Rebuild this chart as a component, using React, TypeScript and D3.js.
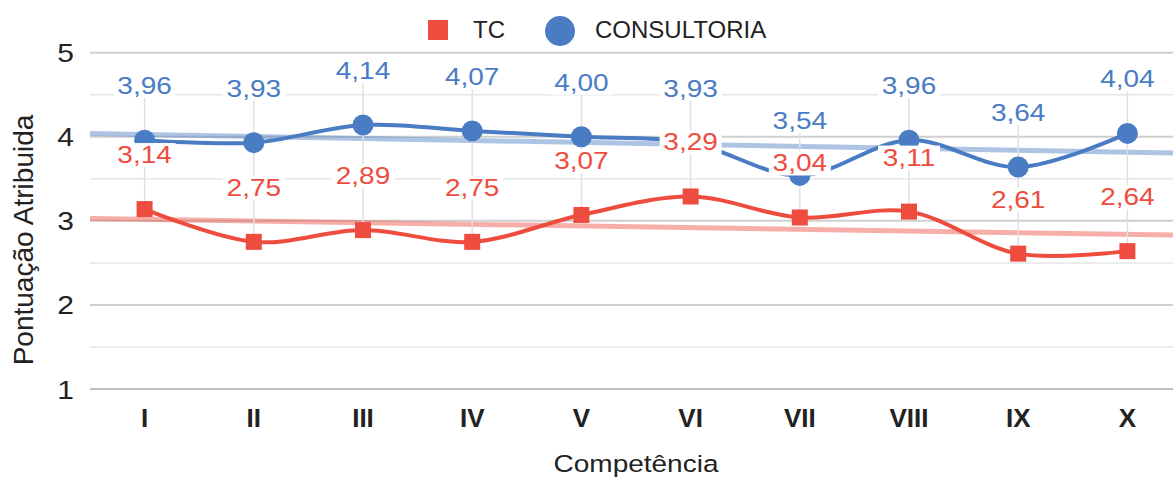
import React, { useEffect, useRef } from 'react';
import * as d3 from 'd3';

const categories = ['I', 'II', 'III', 'IV', 'V', 'VI', 'VII', 'VIII', 'IX', 'X'];
const tcValues = [3.14, 2.75, 2.89, 2.75, 3.07, 3.29, 3.04, 3.11, 2.61, 2.64];
const consultoriaValues = [3.96, 3.93, 4.14, 4.07, 4.0, 3.93, 3.54, 3.96, 3.64, 4.04];
const yTicks = [1, 2, 3, 4, 5];
const yMinorTicks = [1.5, 2.5, 3.5, 4.5];

const RED = '#ee4c3e';
const BLUE = '#4a7cc4';
const FONT = 'Arial, "Liberation Sans", sans-serif';

const fmt = (v: number) => v.toFixed(2).replace('.', ',');

// least squares fit over category index
const linearFit = (vals: number[]) => {
    const n = vals.length;
    const mx = (n - 1) / 2;
    const my = d3.mean(vals) as number;
    let num = 0, den = 0;
    vals.forEach((v, i) => { num += (i - mx) * (v - my); den += (i - mx) * (i - mx); });
    const slope = num / den;
    return (i: number) => my + slope * (i - mx);
};

const App = () => {
    const ref = useRef<SVGSVGElement>(null);

    useEffect(() => {
        const width = 1173;
        const svg = d3.select(ref.current);
        svg.selectAll('*').remove();

        const x = d3.scalePoint<string>().domain(categories).range([90, 1182]).padding(0.5);
        const step = x.step();
        const xi = (i: number) => (x(categories[0]) as number) + i * step;
        const y = d3.scaleLinear().domain([1, 5]).range([389, 52.7]);

        // gridlines
        svg.append('g')
            .selectAll('line')
            .data(yMinorTicks)
            .join('line')
            .attr('x1', 90).attr('x2', width)
            .attr('y1', d => y(d)).attr('y2', d => y(d))
            .attr('stroke', '#e6e6e6').attr('stroke-width', 1.5);
        svg.append('g')
            .selectAll('line')
            .data(yTicks)
            .join('line')
            .attr('x1', 90).attr('x2', width)
            .attr('y1', d => y(d)).attr('y2', d => y(d))
            .attr('stroke', d => (d === 1 ? '#bdbdbd' : '#cfcfcf')).attr('stroke-width', 2);

        // y tick labels
        svg.append('g')
            .selectAll('text')
            .data(yTicks)
            .join('text')
            .attr('transform', d => `translate(74,${y(d) + 9.5}) scale(1,0.87)`)
            .attr('text-anchor', 'end')
            .style('font', `30px ${FONT}`)
            .attr('fill', '#222')
            .text(d => d);

        // x tick labels
        svg.append('g')
            .selectAll('text')
            .data(categories)
            .join('text')
            .attr('x', d => x(d) as number)
            .attr('y', 427)
            .attr('text-anchor', 'middle')
            .style('font', `bold 26px ${FONT}`)
            .attr('fill', '#222')
            .text(d => d);

        // axis titles
        svg.append('text')
            .attr('transform', 'translate(636,472) scale(1,0.87)')
            .attr('text-anchor', 'middle')
            .style('font', `28px ${FONT}`)
            .attr('fill', '#222')
            .text('Competência');
        svg.append('text')
            .attr('transform', 'translate(33,240) rotate(-90)')
            .attr('text-anchor', 'middle')
            .style('font', `28px ${FONT}`)
            .attr('fill', '#222')
            .text('Pontuação Atribuida');

        const series = [
            { name: 'TC', values: tcValues, color: RED },
            { name: 'CONSULTORIA', values: consultoriaValues, color: BLUE }
        ];

        // trend lines
        series.forEach(s => {
            const fit = linearFit(s.values);
            svg.append('line')
                .attr('x1', xi(-0.5)).attr('x2', xi(categories.length - 0.5))
                .attr('y1', y(fit(-0.5))).attr('y2', y(fit(categories.length - 0.5)))
                .attr('stroke', s.color).attr('stroke-opacity', 0.45).attr('stroke-width', 5);
        });

        // leader lines from top label down to lowest point
        svg.append('g')
            .selectAll('line')
            .data(categories)
            .join('line')
            .attr('x1', d => x(d) as number).attr('x2', d => x(d) as number)
            .attr('y1', (d, i) => y(Math.max(tcValues[i], consultoriaValues[i])) - 44)
            .attr('y2', (d, i) => y(Math.min(tcValues[i], consultoriaValues[i])))
            .attr('stroke', '#e0e0e0').attr('stroke-width', 1.5);

        const line = d3.line<number>()
            .x((d, i) => xi(i))
            .y(d => y(d))
            .curve(d3.curveCatmullRom.alpha(0.5));

        // series lines and markers (blue drawn first)
        [series[1], series[0]].forEach(s => {
            svg.append('path')
                .datum(s.values)
                .attr('d', line)
                .attr('fill', 'none')
                .attr('stroke', s.color)
                .attr('stroke-width', 4);
            const g = svg.append('g').attr('fill', s.color);
            if (s.name === 'TC') {
                g.selectAll('rect').data(s.values).join('rect')
                    .attr('x', (d, i) => xi(i) - 8).attr('y', d => y(d) - 8)
                    .attr('width', 16).attr('height', 16);
            } else {
                g.selectAll('circle').data(s.values).join('circle')
                    .attr('cx', (d, i) => xi(i)).attr('cy', d => y(d))
                    .attr('r', 10.5);
            }
        });

        // data labels with white boxes
        [series[1], series[0]].forEach(s => {
            const g = svg.append('g');
            s.values.forEach((v, i) => {
                const lx = xi(i);
                const ly = y(v) - 46;
                g.append('rect')
                    .attr('x', lx - 31).attr('y', ly - 20)
                    .attr('width', 62).attr('height', 24)
                    .attr('fill', 'white');
                g.append('text')
                    .attr('transform', `translate(${lx},${ly}) scale(1,0.87)`)
                    .attr('text-anchor', 'middle')
                    .style('font', `28px ${FONT}`)
                    .attr('fill', s.color)
                    .text(fmt(v));
            });
        });

        // legend
        const legend = svg.append('g');
        legend.append('rect')
            .attr('x', 428).attr('y', 20).attr('width', 20).attr('height', 20)
            .attr('fill', RED);
        legend.append('text')
            .attr('x', 473).attr('y', 38)
            .style('font', `24px ${FONT}`)
            .attr('fill', '#222')
            .text('TC');
        legend.append('circle')
            .attr('cx', 560).attr('cy', 31).attr('r', 15)
            .attr('fill', BLUE);
        legend.append('text')
            .attr('x', 595).attr('y', 38)
            .style('font', `24px ${FONT}`)
            .attr('fill', '#222')
            .text('CONSULTORIA');
    }, []);

    return (
        <svg
            ref={ref}
            width={1173}
            height={477}
            style={{ position: 'absolute', left: 0, top: 0, background: 'white' }}
        />
    );
};

export default App;
